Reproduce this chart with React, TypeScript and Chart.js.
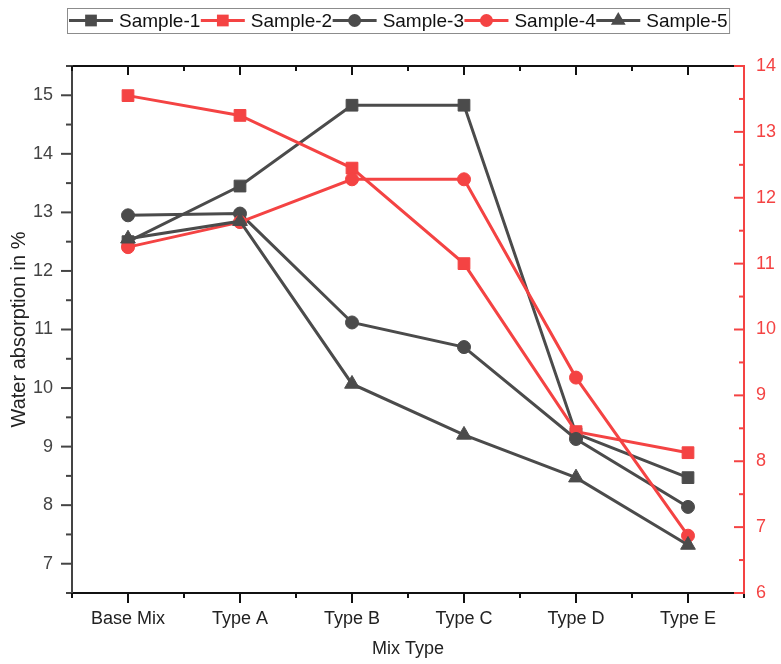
import React, { useEffect, useRef } from 'react';
import { Chart, registerables } from 'chart.js';

Chart.register(...registerables);

// ---- data ----
const categories = ['Base Mix', 'Type A', 'Type B', 'Type C', 'Type D', 'Type E'];
const sample1 = [12.5, 13.45, 14.83, 14.83, 9.22, 8.47]; // left axis
const sample2 = [13.55, 13.25, 12.45, 11.0, 8.45, 8.13]; // right axis
const sample3 = [12.95, 12.98, 11.12, 10.7, 9.13, 7.97]; // left axis
const sample4 = [11.25, 11.63, 12.28, 12.28, 9.27, 6.87]; // right axis
const sample5 = [12.55, 12.85, 10.07, 9.2, 8.47, 7.32]; // left axis
const leftTickValues = [7, 8, 9, 10, 11, 12, 13, 14, 15];
const rightTickValues = [6, 7, 8, 9, 10, 11, 12, 13, 14];
const leftRange = [6.5, 15.5];
const rightRange = [6, 14];

const DARK = '#4b4b4b';
const RED = '#f44343';
const FONT = "'Liberation Sans', Arial, Helvetica, sans-serif";

function drawMarker(ctx: CanvasRenderingContext2D, style: string, x: number, y: number, r: number) {
  ctx.beginPath();
  if (style === 'rect') {
    const h = r * Math.SQRT1_2;
    ctx.rect(x - h, y - h, 2 * h, 2 * h);
  } else if (style === 'triangle') {
    let rad = 0;
    ctx.moveTo(x + Math.sin(rad) * r, y - Math.cos(rad) * r);
    rad += (2 * Math.PI) / 3;
    ctx.lineTo(x + Math.sin(rad) * r, y - Math.cos(rad) * r);
    rad += (2 * Math.PI) / 3;
    ctx.lineTo(x + Math.sin(rad) * r, y - Math.cos(rad) * r);
    ctx.closePath();
  } else {
    ctx.arc(x, y, r, 0, Math.PI * 2);
  }
  ctx.fill();
}

const framePlugin = {
  id: 'originFrame',
  beforeDatasetsDraw(chart: any) {
    const { ctx, chartArea: a, scales } = chart;
    const xs = scales.x;
    const yl = scales.y;
    const yr = scales.y1;
    ctx.save();
    ctx.lineWidth = 2;
    ctx.lineCap = 'butt';
    const line = (x1: number, y1: number, x2: number, y2: number, color: string) => {
      ctx.strokeStyle = color;
      ctx.beginPath();
      ctx.moveTo(x1, y1);
      ctx.lineTo(x2, y2);
      ctx.stroke();
    };
    // frame lines
    line(a.left - 1, a.top, a.right, a.top, '#111');
    line(a.left - 1, a.bottom, a.right, a.bottom, '#111');
    line(a.left, a.top - 1, a.left, a.bottom + 1, '#444');
    // left ticks (outward)
    for (let v = leftRange[0]; v <= leftRange[1] + 1e-9; v += 0.5) {
      const py = yl.getPixelForValue(v);
      const len = Math.abs(v - Math.round(v)) < 1e-6 ? 11 : 6;
      line(a.left - len, py, a.left, py, '#444');
    }
    // x ticks
    const n = categories.length;
    const p0 = xs.getPixelForValue(0);
    const half = (xs.getPixelForValue(1) - p0) / 2;
    for (let i = 0; i < n; i++) {
      const px = xs.getPixelForValue(i);
      line(px, a.bottom, px, a.bottom + 10, '#111');
      line(px, a.top, px, a.top + 9, '#111');
    }
    for (let i = 0; i <= n; i++) {
      const px = p0 - half + i * 2 * half;
      line(px, a.bottom, px, a.bottom + 5, '#111');
      line(px, a.top, px, a.top + 5, '#111');
    }
    // right axis (red, inward ticks)
    line(a.right, a.top - 1, a.right, a.bottom + 1, RED);
    for (let v = rightRange[0]; v <= rightRange[1] + 1e-9; v += 0.5) {
      const py = yr.getPixelForValue(v);
      const len = Math.abs(v - Math.round(v)) < 1e-6 ? 10 : 5;
      line(a.right - len, py, a.right, py, RED);
    }
    ctx.restore();
  },
};

const legendPlugin = {
  id: 'boxLegend',
  afterDraw(chart: any) {
    const ctx: CanvasRenderingContext2D = chart.ctx;
    ctx.save();
    ctx.font = `19px ${FONT}`;
    const cy = 20.5;
    const startX = 69;
    let x = startX;
    chart.data.datasets.forEach((ds: any) => {
      ctx.strokeStyle = ds.borderColor;
      ctx.lineWidth = 3;
      ctx.beginPath();
      ctx.moveTo(x, cy);
      ctx.lineTo(x + 44, cy);
      ctx.stroke();
      ctx.fillStyle = ds.borderColor;
      drawMarker(ctx, ds.pointStyle, x + 22, cy, ds.pointRadius);
      ctx.fillStyle = '#111';
      ctx.textBaseline = 'middle';
      ctx.textAlign = 'left';
      ctx.fillText(ds.label, x + 50, cy + 1);
      x += 50 + ctx.measureText(ds.label).width + 0.5;
    });
    ctx.strokeStyle = '#8c8c8c';
    ctx.lineWidth = 1;
    ctx.strokeRect(startX - 1.5, 8.5, x - startX + 3, 25);
    ctx.restore();
  },
};

export default function App() {
  const ref = useRef<HTMLCanvasElement>(null);
  useEffect(() => {
    const mk = (label: string, data: number[], color: string, style: string, r: number, axis: string, order: number) => ({
      label,
      data,
      borderColor: color,
      backgroundColor: color,
      pointBackgroundColor: color,
      pointBorderColor: color,
      pointStyle: style,
      pointRadius: r,
      pointBorderWidth: 1,
      borderWidth: 3,
      tension: 0,
      yAxisID: axis,
      order,
    });
    const chart = new Chart(ref.current as HTMLCanvasElement, {
      type: 'line',
      data: {
        labels: categories,
        datasets: [
          mk('Sample-1', sample1, DARK, 'rect', 8.3, 'y', 5),
          mk('Sample-2', sample2, RED, 'rect', 8.3, 'y1', 4),
          mk('Sample-3', sample3, DARK, 'circle', 6.5, 'y', 3),
          mk('Sample-4', sample4, RED, 'circle', 6.5, 'y1', 2),
          mk('Sample-5', sample5, DARK, 'triangle', 8.5, 'y', 1),
        ] as any,
      },
      options: {
        responsive: false,
        maintainAspectRatio: false,
        devicePixelRatio: 1,
        animation: false,
        layout: { padding: { top: 66, left: 0, right: 0, bottom: 0 } },
        plugins: {
          legend: { display: false },
          tooltip: { enabled: false },
        },
        scales: {
          x: {
            type: 'category',
            offset: true,
            grid: { display: false, drawTicks: false },
            border: { display: false },
            ticks: {
              font: { size: 18, family: FONT },
              color: '#222',
              padding: 15,
              maxRotation: 0,
              autoSkip: false,
            },
            title: {
              display: true,
              text: 'Mix Type',
              font: { size: 18, family: FONT },
              color: '#222',
              padding: { top: 0, bottom: 4 },
            },
            afterFit: (s: any) => {
              s.height = 71;
            },
          },
          y: {
            position: 'left',
            min: leftRange[0],
            max: leftRange[1],
            afterBuildTicks: (s: any) => {
              s.ticks = leftTickValues.map((v) => ({ value: v }));
            },
            grid: { display: false, drawTicks: false },
            border: { display: false },
            ticks: { font: { size: 18, family: FONT }, color: '#444', padding: 19 },
            title: {
              display: true,
              text: 'Water absorption in %',
              font: { size: 20, family: FONT },
              color: '#222',
              padding: { top: 7, bottom: 0 },
            },
            afterFit: (s: any) => {
              s.width = 72;
            },
          },
          y1: {
            position: 'right',
            min: rightRange[0],
            max: rightRange[1],
            afterBuildTicks: (s: any) => {
              s.ticks = rightTickValues.map((v) => ({ value: v }));
            },
            grid: { display: false, drawTicks: false },
            border: { display: false },
            ticks: { font: { size: 18, family: FONT }, color: RED, padding: 12 },
            afterFit: (s: any) => {
              s.width = 37;
            },
          },
        },
      } as any,
      plugins: [framePlugin, legendPlugin],
    });
    return () => chart.destroy();
  }, []);
  return (
    <div style={{ position: 'fixed', left: 0, top: 0, width: 781, height: 664, background: '#fff' }}>
      <canvas ref={ref} width={781} height={664} style={{ width: 781, height: 664, display: 'block' }} />
    </div>
  );
}
